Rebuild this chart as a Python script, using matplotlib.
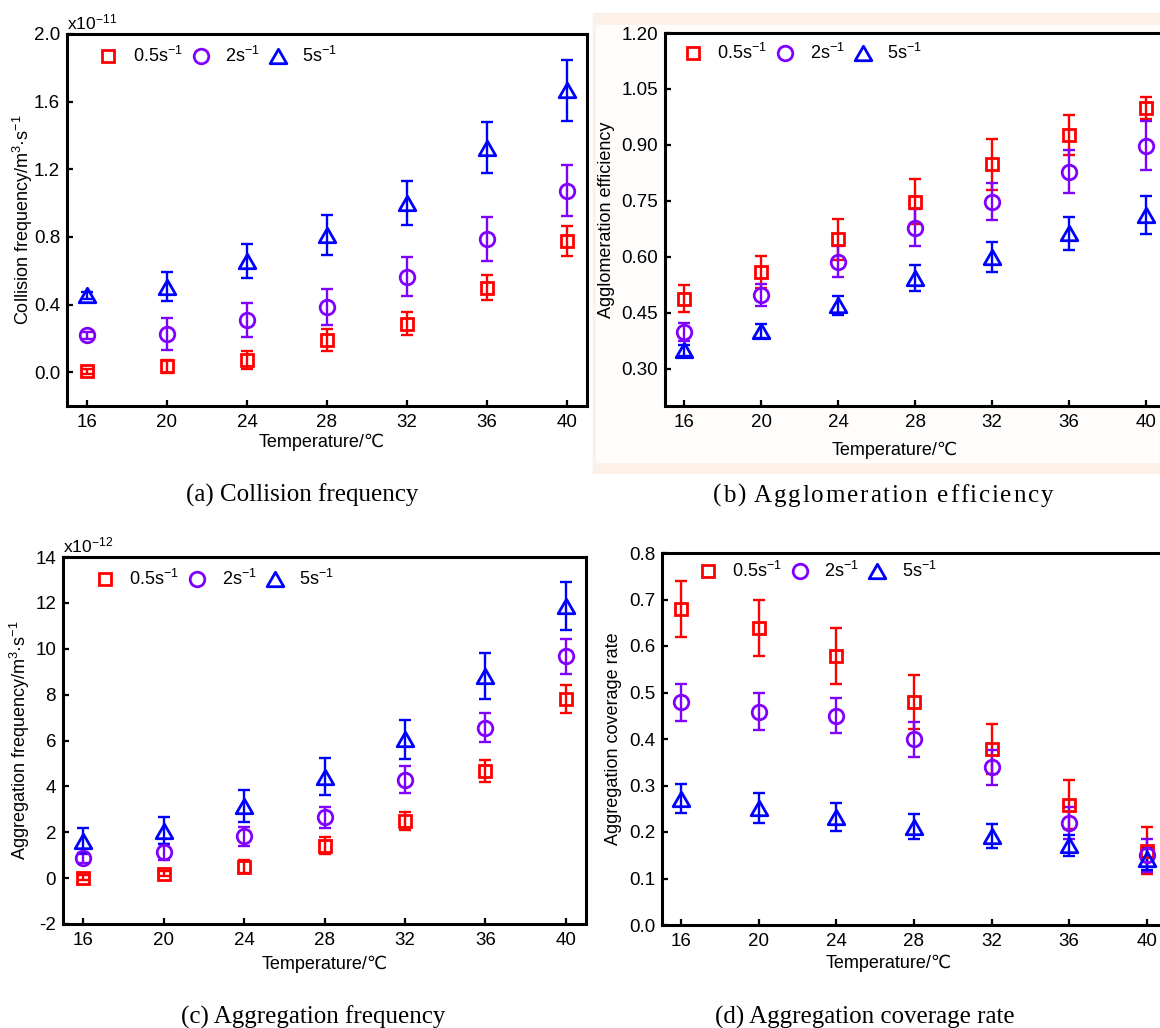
import matplotlib.pyplot as plt
from matplotlib.lines import Line2D
from matplotlib.patches import Rectangle
from matplotlib.path import Path

plt.rcParams['font.family'] = ['Liberation Sans', 'DejaVu Sans']
plt.rcParams['mathtext.fontset'] = 'custom'
plt.rcParams['mathtext.rm'] = 'Liberation Sans'
plt.rcParams['mathtext.it'] = 'Liberation Sans:italic'
plt.rcParams['axes.unicode_minus'] = False

W, H = 1160, 1028

# -------------------------------------------------
# Data
# -------------------------------------------------
temps = [16, 20, 24, 28, 32, 36, 40]
shear_labels = ["0.5s$^{-1}$", "2s$^{-1}$", "5s$^{-1}$"]

# (a) collision frequency, x1e-11
coll_05 = [0.006, 0.034, 0.073, 0.188, 0.287, 0.499, 0.776]
coll_05_err = [0.015, 0.04, 0.055, 0.065, 0.07, 0.075, 0.09]
coll_2 = [0.218, 0.224, 0.307, 0.386, 0.564, 0.786, 1.073]
coll_2_err = [0.02, 0.095, 0.10, 0.105, 0.115, 0.13, 0.15]
coll_5 = [0.455, 0.505, 0.657, 0.812, 1.0, 1.327, 1.667]
coll_5_err = [0.02, 0.085, 0.10, 0.12, 0.13, 0.15, 0.18]

# (b) agglomeration efficiency
eff_05 = [0.488, 0.56, 0.647, 0.748, 0.848, 0.927, 0.999]
eff_05_err = [0.036, 0.043, 0.055, 0.06, 0.068, 0.054, 0.03]
eff_2 = [0.398, 0.497, 0.587, 0.678, 0.748, 0.828, 0.898]
eff_2_err = [0.025, 0.03, 0.042, 0.05, 0.05, 0.058, 0.065]
eff_5 = [0.349, 0.401, 0.47, 0.542, 0.60, 0.663, 0.712]
eff_5_err = [0.015, 0.02, 0.025, 0.035, 0.04, 0.045, 0.05]

# (c) aggregation frequency, x1e-12
aggf_05 = [0.02, 0.19, 0.5, 1.42, 2.5, 4.68, 7.82]
aggf_05_err = [0.1, 0.1, 0.28, 0.38, 0.4, 0.47, 0.6]
aggf_2 = [0.87, 1.13, 1.82, 2.65, 4.29, 6.56, 9.67]
aggf_2_err = [0.2, 0.35, 0.42, 0.47, 0.58, 0.62, 0.75]
aggf_5 = [1.64, 2.07, 3.16, 4.43, 6.05, 8.8, 11.87]
aggf_5_err = [0.55, 0.58, 0.7, 0.82, 0.85, 1.0, 1.06]

# (d) aggregation coverage rate
cov_05 = [0.679, 0.639, 0.578, 0.479, 0.379, 0.259, 0.16]
cov_05_err = [0.06, 0.06, 0.06, 0.058, 0.054, 0.053, 0.05]
cov_2 = [0.479, 0.459, 0.45, 0.399, 0.339, 0.219, 0.15]
cov_2_err = [0.04, 0.04, 0.038, 0.038, 0.038, 0.035, 0.035]
cov_5 = [0.272, 0.251, 0.232, 0.211, 0.192, 0.171, 0.142]
cov_5_err = [0.032, 0.032, 0.03, 0.027, 0.026, 0.023, 0.023]

# -------------------------------------------------
# Styles
# -------------------------------------------------
TRI = Path([(0, 0.866), (-1, -0.866), (1, -0.866), (0, 0.866)],
           [Path.MOVETO, Path.LINETO, Path.LINETO, Path.CLOSEPOLY])
markers = ["s", "o", TRI]
msizes = [9.0, 10.5, 12.0]
colors = ["#ff0000", "#8000ff", "#0000ff"]

fig = plt.figure(figsize=(W / 100, H / 100), dpi=100)

# peach frame behind panel (b)
fig.patches.append(Rectangle((593 / W, 1 - 473 / H), (W - 593) / W, 460 / H,
                             transform=fig.transFigure, color="#fdf1e7", zorder=-10))
fig.patches.append(Rectangle((596 / W, 1 - 462 / H), (W - 596) / W, 437 / H,
                             transform=fig.transFigure, color="#fffdfb", zorder=-9))


def px_axes(left, top, right, bottom):
    return fig.add_axes([left / W, 1 - bottom / H, (right - left) / W, (bottom - top) / H])


def draw_panel(ax, series, errs, ylim, yticks, yfmt, ylabel, ylab_x, xlab_y,
               xlab_x, leg_anchor, mult=None):
    for vals, err, m, ms, c in zip(series, errs, markers, msizes, colors):
        ax.errorbar(temps, vals, yerr=err, fmt="none", ecolor=c, elinewidth=1.7,
                    capsize=4.5, capthick=1.7, zorder=2)
        ax.plot(temps, vals, linestyle="none", marker=m, ms=ms, mfc="none",
                mec=c, mew=2.0, zorder=3)

    ax.set_xlim(15, 41)
    ax.set_ylim(*ylim)
    ax.set_xticks(temps)
    ax.set_yticks(yticks)
    ax.set_yticklabels([yfmt.format(v) for v in yticks])
    ax.tick_params(direction="in", length=4.5, width=1.6, labelsize=13.5,
                   top=False, right=False)
    ax.tick_params(axis="x", pad=6)
    ax.tick_params(axis="y", pad=5)
    for sp in ax.spines.values():
        sp.set_linewidth(2.2)

    ax.set_xlabel("Temperature/℃", fontsize=13)
    ax.xaxis.set_label_coords(xlab_x, xlab_y)
    ax.set_ylabel(ylabel, fontsize=13)
    ax.yaxis.set_label_coords(ylab_x, 0.5)

    if mult is not None:
        ax.text(0.0, 1.004, mult, transform=ax.transAxes, ha="left",
                va="bottom", fontsize=12.5)

    handles = [Line2D([], [], linestyle="none", marker=m, ms=ms, mfc="none",
                      mec=c, mew=2.0)
               for m, ms, c in zip(markers, msizes, colors)]
    ax.legend(handles, shear_labels, loc="upper left", bbox_to_anchor=leg_anchor,
              ncol=3, frameon=False, fontsize=13, handlelength=1.1,
              handletextpad=0.8, columnspacing=0.45, borderpad=0,
              borderaxespad=0)


ax_a = px_axes(67, 34, 587, 406)
draw_panel(ax_a, [coll_05, coll_2, coll_5], [coll_05_err, coll_2_err, coll_5_err],
           (-0.2, 2.0), [0.0, 0.4, 0.8, 1.2, 1.6, 2.0], "{:.1f}",
           "Collision frequency/m$^3$·s$^{-1}$", -0.062, -0.075, 0.49,
           (0.06, 0.968), mult="x10$^{-11}$")

ax_b = px_axes(665, 33, 1165, 406)
draw_panel(ax_b, [eff_05, eff_2, eff_5], [eff_05_err, eff_2_err, eff_5_err],
           (0.2, 1.2), [0.30, 0.45, 0.60, 0.75, 0.90, 1.05, 1.20], "{:.2f}",
           "Agglomeration efficiency", -0.1, -0.095, 0.46,
           (0.036, 0.973))

ax_c = px_axes(63, 557, 586, 924)
draw_panel(ax_c, [aggf_05, aggf_2, aggf_5], [aggf_05_err, aggf_2_err, aggf_5_err],
           (-2, 14), list(range(-2, 15, 2)), "{:d}",
           "Aggregation frequency/m$^3$·s$^{-1}$", -0.06, -0.085, 0.5,
           (0.061, 0.968), mult="x10$^{-12}$")

ax_d = px_axes(662, 553, 1166, 925)
draw_panel(ax_d, [cov_05, cov_2, cov_5], [cov_05_err, cov_2_err, cov_5_err],
           (0.0, 0.8), [0.0, 0.1, 0.2, 0.3, 0.4, 0.5, 0.6, 0.7, 0.8], "{:.1f}",
           "Aggregation coverage rate", -0.08, -0.081, 0.45,
           (0.071, 0.979))

# -------------------------------------------------
# Captions (serif, below each panel)
# -------------------------------------------------
cap_kw = dict(family="Liberation Serif", fontsize=18)
fig.text(302 / W, 1 - 502 / H, "(a) Collision frequency", ha="center",
         va="baseline", **cap_kw)
fig.text(313 / W, 1 - 1024 / H, "(c) Aggregation frequency", ha="center",
         va="baseline", **cap_kw)
fig.text(865 / W, 1 - 1024 / H, "(d) Aggregation coverage rate", ha="center",
         va="baseline", **cap_kw)


def spaced_caption(xc, base_y, s, extra_px):
    # letter-spaced caption, drawn one character at a time
    r = fig.canvas.get_renderer()

    def width(txt):
        t = fig.text(0, 0, txt, **cap_kw)
        w = t.get_window_extent(r).width
        t.remove()
        return w

    starts = []
    for i, ch in enumerate(s):
        if ch == " ":
            starts.append(None)
        else:
            starts.append(width(s[:i + 1]) - width(ch) + extra_px * i)
    total = width(s) + extra_px * (len(s) - 1)
    x0 = xc - total / 2
    for ch, st in zip(s, starts):
        if st is None:
            continue
        fig.text((x0 + st) / W, 1 - base_y / H, ch, ha="left", va="baseline",
                 **cap_kw)


spaced_caption(883, 502, "(b) Agglomeration efficiency", 1.8)

fig.savefig("out.png", dpi=100)
